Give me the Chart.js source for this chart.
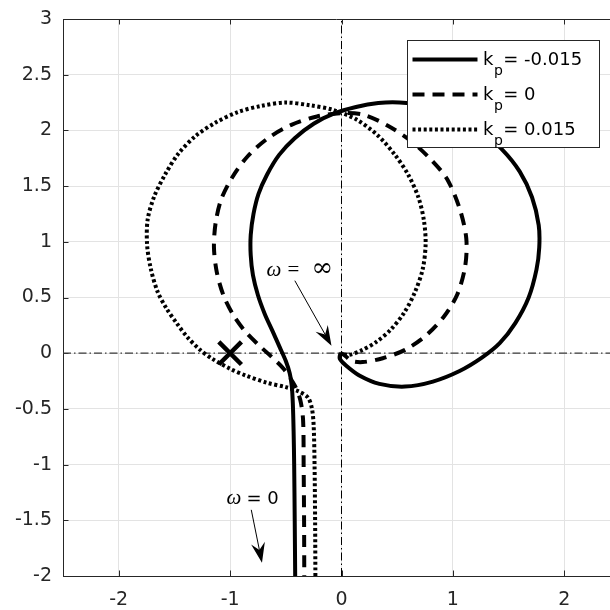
<!DOCTYPE html>
<html>
<head>
<meta charset="utf-8">
<script src="https://cdn.jsdelivr.net/npm/chart.js@4.4.0/dist/chart.umd.min.js"></script>
<style>
  html, body { margin: 0; padding: 0; background: #fff; overflow: hidden; }
  canvas { display: block; }
</style>
</head>
<body>
<canvas id="nyquist" width="610" height="610"></canvas>
<script>
// Nyquist curves (order: omega = 0 -> omega = inf)
const kpNegX = [-0.415, -0.42, -0.425, -0.43, -0.437, -0.447, -0.465, -0.50, -0.554, -0.62, -0.69, -0.75, -0.795, -0.815, -0.815, -0.79, -0.745, -0.67, -0.56, -0.42, -0.25, -0.07, 0.13, 0.33, 0.52, 0.75, 1.0, 1.22, 1.44, 1.6, 1.71, 1.77, 1.775, 1.75, 1.68, 1.56, 1.42, 1.26, 1.06, 0.82, 0.57, 0.34, 0.16, 0.04, -0.015, -0.012, 0];
const kpNegY = [-2.1, -1.5, -1.0, -0.7, -0.45, -0.29, -0.18, -0.07, 0.052, 0.2, 0.355, 0.52, 0.7, 0.88, 1.06, 1.25, 1.43, 1.6, 1.78, 1.93, 2.06, 2.15, 2.21, 2.245, 2.25, 2.22, 2.14, 2.02, 1.83, 1.63, 1.40, 1.15, 0.95, 0.75, 0.50, 0.27, 0.09, -0.04, -0.16, -0.255, -0.30, -0.275, -0.20, -0.11, -0.05, -0.01, 0];

const kpZeroX = [-0.334, -0.336, -0.34, -0.345, -0.37, -0.42, -0.52, -0.62, -0.74, -0.86, -0.97, -1.06, -1.12, -1.145, -1.13, -1.08, -0.98, -0.84, -0.66, -0.45, -0.22, 0.0, 0.2, 0.42, 0.63, 0.82, 0.95, 1.06, 1.12, 1.11, 1.04, 0.92, 0.76, 0.57, 0.37, 0.19, 0.09, 0.04, 0];
const kpZeroY = [-2.1, -1.5, -1.0, -0.6, -0.42, -0.29, -0.14, -0.04, 0.07, 0.19, 0.34, 0.52, 0.73, 0.95, 1.17, 1.38, 1.58, 1.77, 1.93, 2.05, 2.125, 2.155, 2.14, 2.04, 1.90, 1.72, 1.56, 1.30, 1.03, 0.78, 0.53, 0.33, 0.16, 0.03, -0.045, -0.08, -0.07, -0.03, 0];

const kpPosX = [-0.234, -0.237, -0.242, -0.25, -0.265, -0.30, -0.38, -0.50, -0.67, -0.86, -1.0, -1.16, -1.27, -1.38, -1.48, -1.57, -1.65, -1.71, -1.745, -1.74, -1.68, -1.58, -1.465, -1.31, -1.13, -0.93, -0.72, -0.5, -0.28, -0.08, 0.13, 0.32, 0.48, 0.60, 0.69, 0.74, 0.755, 0.73, 0.66, 0.56, 0.44, 0.31, 0.18, 0.07, 0.02, 0];
const kpPosY = [-2.1, -1.5, -1.0, -0.65, -0.5, -0.40, -0.345, -0.305, -0.265, -0.20, -0.14, -0.05, 0.03, 0.14, 0.27, 0.40, 0.55, 0.75, 0.97, 1.2, 1.41, 1.61, 1.79, 1.95, 2.07, 2.165, 2.22, 2.25, 2.225, 2.185, 2.10, 1.96, 1.78, 1.60, 1.40, 1.19, 0.98, 0.76, 0.55, 0.36, 0.21, 0.10, 0.025, -0.015, -0.01, 0];

const kpValues = ['-0.015', '0', '0.015'];
const criticalX = [-1];
const criticalY = [0];

const xTicks = [-2, -1, 0, 1, 2];
const yTicks = [3, 2.5, 2, 1.5, 1, 0.5, 0, -0.5, -1, -1.5, -2];
const xRange = [-2.5, 2.41];
const yRange = [-2, 3];

// dash-dot axes through the origin
const axisVX = [0, 0];
const axisVY = [-2, 3];
const axisHX = [-2.5, 2.41];
const axisHY = [0, 0];

// annotation anchors (data units)
const arrowInf = { from: [-0.419, 0.651], to: [-0.09, 0.067] };
const arrowZero = { from: [-0.81, -1.406], to: [-0.714, -1.88] };
const labelInf = [-0.674, 0.696];
const labelZero = [-1.032, -1.351];

const ink = '#262626';

function punts(xs, ys) {
  return xs.map((x, i) => ({ x: x, y: ys[i] }));
}

function curva(label, xs, ys, dash) {
  return {
    label: label,
    data: punts(xs, ys),
    showLine: true,
    borderColor: '#000',
    borderWidth: 4,
    borderDash: dash,
    borderCapStyle: 'butt',
    borderJoinStyle: 'round',
    pointRadius: 0,
    tension: 0.3,
    clip: 0,
    order: 2
  };
}

function eixDiscontinu(xs, ys, color, width) {
  return {
    label: '',
    data: punts(xs, ys),
    showLine: true,
    borderColor: color,
    borderWidth: width,
    borderDash: [8, 3, 1.5, 3],
    pointRadius: 0,
    clip: 0,
    order: 5
  };
}

// arrow with a notched filled head
function fletxa(ctx, x0, y0, x1, y1) {
  const ang = Math.atan2(y1 - y0, x1 - x0);
  const c = Math.cos(ang), s = Math.sin(ang);
  const len = 20, half = 7, notch = 13;
  const nx = x1 - c * notch, ny = y1 - s * notch;
  ctx.beginPath();
  ctx.moveTo(x0, y0);
  ctx.lineTo(nx, ny);
  ctx.stroke();
  ctx.beginPath();
  ctx.moveTo(x1, y1);
  ctx.lineTo(x1 - c * len + s * half, y1 - s * len - c * half);
  ctx.lineTo(nx, ny);
  ctx.lineTo(x1 - c * len - s * half, y1 - s * len + c * half);
  ctx.closePath();
  ctx.fill();
}

function peces(ctx, x, y, parts) {
  parts.forEach(p => {
    ctx.font = p.font;
    ctx.fillText(p.t, x + p.dx, y);
  });
}

const decoracio = {
  id: 'decoracio',
  beforeDatasetsDraw(chart) {
    const { ctx, chartArea: a, scales } = chart;
    ctx.save();
    ctx.strokeStyle = ink;
    ctx.lineWidth = 1;
    // top box edge
    ctx.beginPath();
    ctx.moveTo(a.left, a.top + 0.5);
    ctx.lineTo(a.right, a.top + 0.5);
    ctx.stroke();
    // inward ticks
    const tl = 5.5;
    ctx.beginPath();
    xTicks.forEach(v => {
      const px = Math.round(scales.x.getPixelForValue(v)) + 0.5;
      ctx.moveTo(px, a.bottom); ctx.lineTo(px, a.bottom - tl);
      ctx.moveTo(px, a.top); ctx.lineTo(px, a.top + tl);
    });
    yTicks.forEach(v => {
      const py = Math.round(scales.y.getPixelForValue(v)) + 0.5;
      ctx.moveTo(a.left, py); ctx.lineTo(a.left + tl, py);
    });
    ctx.stroke();
    ctx.restore();
  },
  afterDraw(chart) {
    const { ctx, chartArea: a, scales } = chart;
    const px = v => scales.x.getPixelForValue(v);
    const py = v => scales.y.getPixelForValue(v);
    ctx.save();

    // arrows and omega labels
    ctx.strokeStyle = '#000';
    ctx.fillStyle = '#000';
    ctx.lineWidth = 1;
    [arrowInf, arrowZero].forEach(ar => {
      fletxa(ctx, px(ar.from[0]), py(ar.from[1]), px(ar.to[0]), py(ar.to[1]));
    });
    ctx.textBaseline = 'alphabetic';
    ctx.textAlign = 'left';
    peces(ctx, px(labelInf[0]), py(labelInf[1]), [
      { t: 'ω', font: 'italic 21px "Liberation Serif"', dx: 0 },
      { t: '=', font: '21px "Liberation Serif"', dx: 21 },
      { t: '∞', font: '26px "DejaVu Serif"', dx: 45 }
    ]);
    peces(ctx, px(labelZero[0]), py(labelZero[1]), [
      { t: 'ω', font: 'italic 21px "Liberation Serif"', dx: 0 },
      { t: '= 0', font: '18px "DejaVu Sans"', dx: 20 }
    ]);

    // legend box
    const w = 192, h = 107;
    const left = a.right - 11 - w, top = a.top + 21;
    ctx.fillStyle = '#fff';
    ctx.fillRect(left, top, w, h);
    ctx.strokeStyle = ink;
    ctx.lineWidth = 1;
    ctx.strokeRect(left + 0.5, top + 0.5, w, h);
    const curves = chart.data.datasets.filter(d => d.label && d.label.startsWith('k'));
    curves.forEach((d, i) => {
      const ry = top + 19.5 + i * 35;
      ctx.save();
      ctx.strokeStyle = d.borderColor;
      ctx.lineWidth = d.borderWidth;
      ctx.lineCap = 'butt';
      ctx.setLineDash(d.borderDash || []);
      ctx.beginPath();
      ctx.moveTo(left + 5.5, ry);
      ctx.lineTo(left + 70.5, ry);
      ctx.stroke();
      ctx.restore();
      ctx.fillStyle = '#000';
      const tx = left + 76;
      ctx.font = '18px "DejaVu Sans"';
      ctx.fillText('k', tx, ry + 5);
      const kw = ctx.measureText('k').width;
      ctx.font = '14px "DejaVu Sans"';
      ctx.fillText('p', tx + kw + 0.5, ry + 15);
      const pw = ctx.measureText('p').width;
      ctx.font = '18px "DejaVu Sans"';
      ctx.fillText('= ' + kpValues[i], tx + kw + pw + 1, ry + 5);
    });
    ctx.restore();
  }
};

function tickFixos(valors) {
  return scale => { scale.ticks = valors.map(v => ({ value: v })); };
}

const ctx = document.getElementById('nyquist').getContext('2d');
new Chart(ctx, {
  type: 'scatter',
  data: {
    datasets: [
      curva('kp = ' + kpValues[0], kpNegX, kpNegY, []),
      curva('kp = ' + kpValues[1], kpZeroX, kpZeroY, [12, 8]),
      curva('kp = ' + kpValues[2], kpPosX, kpPosY, [3, 2.6]),
      eixDiscontinu(axisVX, axisVY, '#000', 1),
      eixDiscontinu(axisHX, axisHY, '#3a3a3a', 1.3),
      {
        label: '',
        data: punts(criticalX, criticalY),
        pointStyle: 'crossRot',
        pointRadius: 16,
        pointBorderWidth: 4.5,
        pointBorderColor: '#000',
        showLine: false,
        clip: 0,
        order: 1
      }
    ]
  },
  options: {
    responsive: false,
    devicePixelRatio: 1,
    animation: false,
    events: [],
    layout: { autoPadding: false, padding: { top: 19, right: 0, left: 0, bottom: 0 } },
    plugins: { legend: { display: false }, tooltip: { enabled: false } },
    scales: {
      x: {
        type: 'linear',
        min: xRange[0],
        max: xRange[1],
        afterBuildTicks: tickFixos(xTicks),
        afterFit: s => { s.height = 34; s.paddingLeft = 0; s.paddingRight = 0; },
        grid: { color: '#e3e3e3', drawTicks: false },
        border: { color: ink, width: 1 },
        ticks: { color: ink, padding: 13, font: { family: 'DejaVu Sans', size: 19 }, callback: v => String(v) }
      },
      y: {
        type: 'linear',
        min: yRange[0],
        max: yRange[1],
        afterBuildTicks: tickFixos(yTicks),
        afterFit: s => { s.width = 63; s.paddingTop = 0; s.paddingBottom = 0; },
        grid: { color: '#e3e3e3', drawTicks: false },
        border: { color: ink, width: 1 },
        ticks: { color: ink, padding: 11, font: { family: 'DejaVu Sans', size: 19 }, callback: v => String(v) }
      }
    }
  },
  plugins: [decoracio]
});
</script>
</body>
</html>
